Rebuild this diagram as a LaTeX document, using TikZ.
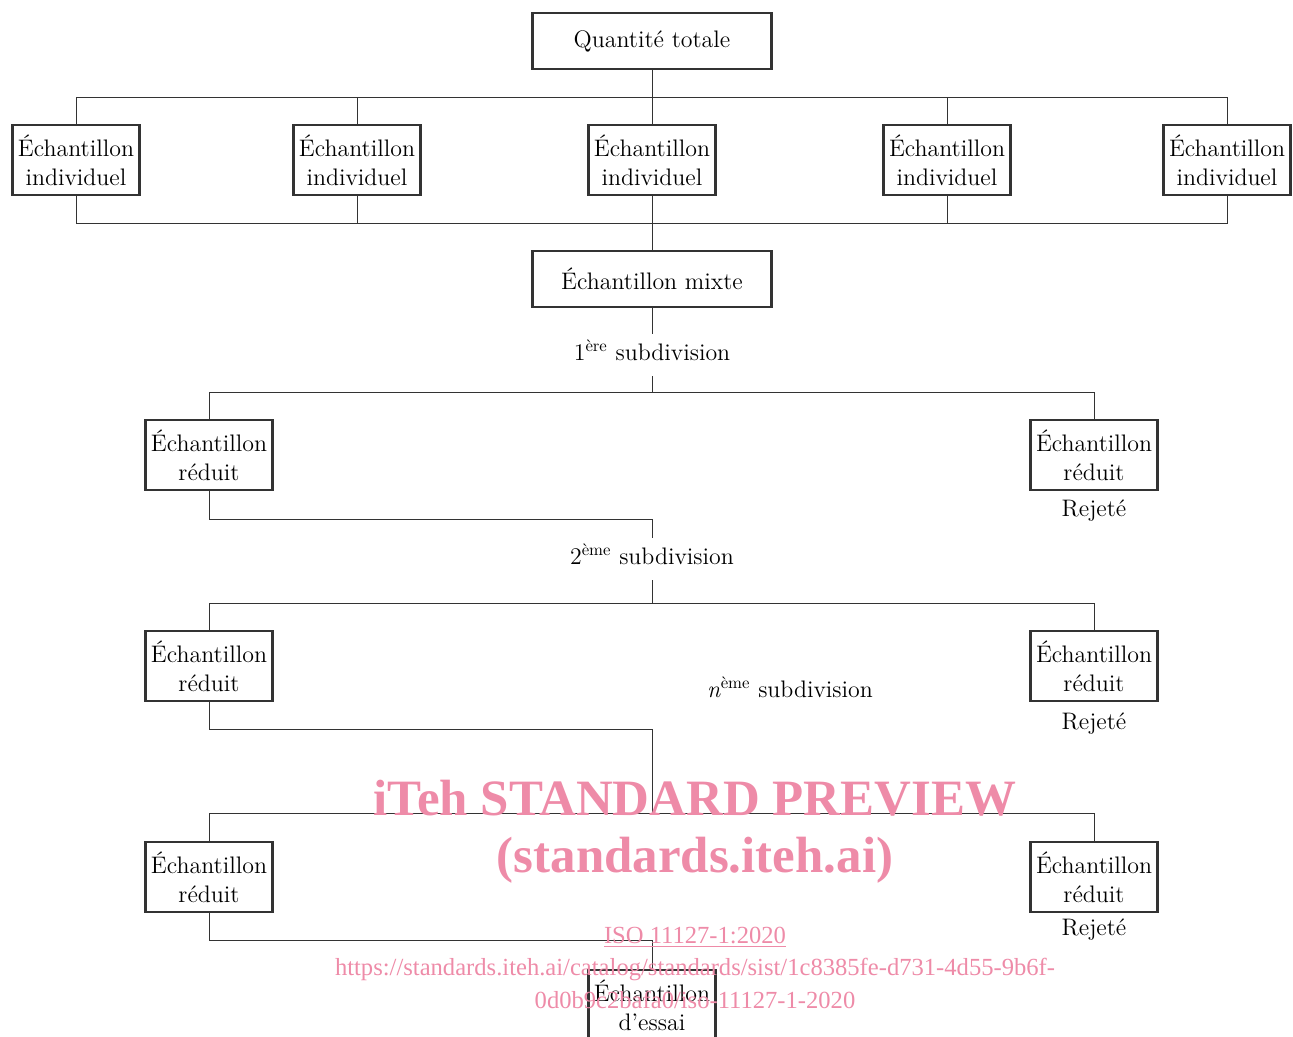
\documentclass[tikz,border=0pt]{standalone}
\usepackage{fontspec}
\newfontfamily\filfont{Liberation Serif}
\usetikzlibrary{positioning,calc}
\definecolor{rosefil}{RGB}{238,139,168}

\begin{document}
\begin{tikzpicture}[
    x=0.02cm, y=-0.02cm,
    font=\fontsize{13.6pt}{16.5pt}\selectfont,
    lien/.style={draw=black!80, line width=0.5pt},
    boite/.style={
        draw=black!80,
        line width=1.3pt,
        align=center,
        inner sep=0pt
    },
    large/.style={boite, minimum width=4.78cm, minimum height=1.12cm},
    ech/.style={boite, minimum width=2.54cm, minimum height=1.4cm},
    subdiv/.style={inner sep=5.5pt, text height=9.5pt, text depth=3pt},
    rejet/.style={inner sep=2pt},
    fil/.style={text=rosefil, inner sep=0pt}
]
\useasboundingbox (0,0) rectangle (1293,1036);

% quantite totale et echantillons individuels
\node[large] (qt)    at (652,41)  {Quantité totale};
\node[ech]   (ind1)  at (76,160)  {Échantillon\\individuel};
\node[ech]   (ind2)  at (357,160) {Échantillon\\individuel};
\node[ech]   (ind3)  at (652,160) {Échantillon\\individuel};
\node[ech]   (ind4)  at (947,160) {Échantillon\\individuel};
\node[ech]   (ind5)  at (1227,160) {Échantillon\\individuel};
\node[large] (mixte) at (652,279) {Échantillon mixte};

\coordinate (haut) at (652,97);
\coordinate (bas)  at (652,223);

\draw[lien] (qt) -- (haut);
\draw[lien] (ind1.north) |- (ind5.north |- haut) -- (ind5.north);
\draw[lien] (ind1.south) |- (ind5.south |- bas) -- (ind5.south);
\foreach \i in {2,3,4} {
    \draw[lien] (ind\i.north) -- (ind\i.north |- haut);
    \draw[lien] (ind\i.south) -- (ind\i.south |- bas);
}
\draw[lien] (bas) -- (mixte);

% 1ere subdivision
\node[subdiv] (sub1) at (652,355) {1\textsuperscript{ère} subdivision};
\coordinate (div1) at (652,392);
\node[ech] (red1a) at (209,455)  {Échantillon\\réduit};
\node[ech] (red1b) at (1094,455) {Échantillon\\réduit};
\node[rejet, below=3pt of red1b] (rej1) {Rejeté};

\draw[lien] (mixte) -- (sub1);
\draw[lien] (sub1) -- (div1);
\draw[lien] (red1a.north) |- (div1) -| (red1b.north);

% 2eme subdivision
\node[subdiv] (sub2) at (652,559) {2\textsuperscript{ème} subdivision};
\coordinate (c2)   at (652,519);
\coordinate (div2) at (652,603);
\node[ech] (red2a) at (209,666)  {Échantillon\\réduit};
\node[ech] (red2b) at (1094,666) {Échantillon\\réduit};
\node[rejet, below=4pt of red2b] (rej2) {Rejeté};

\draw[lien] (red1a.south) |- (c2) -- (sub2);
\draw[lien] (sub2) -- (div2);
\draw[lien] (red2a.north) |- (div2) -| (red2b.north);

% neme subdivision
\node[subdiv] (subn) at (790,692) {\textit{n}\textsuperscript{ème} subdivision};
\coordinate (c3)   at (652,729);
\coordinate (div3) at (652,813);
\node[ech] (red3a) at (209,877)  {Échantillon\\réduit};
\node[ech] (red3b) at (1094,877) {Échantillon\\réduit};
\node[rejet, below=1pt of red3b] (rej3) {Rejeté};

\draw[lien] (red2a.south) |- (c3) -- (div3);
\draw[lien] (red3a.north) |- (div3) -| (red3b.north);

% echantillon d'essai
\coordinate (c4) at (652,940);
\node[ech] (essai) at (652,1005) {Échantillon\\d’essai};
\draw[lien] (red3a.south) |- (c4) -- (essai.north);

% filigrane
\node[fil, font=\filfont\bfseries\fontsize{29pt}{30pt}\selectfont] (fil1) at (695,798) {iTeh STANDARD PREVIEW};
\node[fil, font=\filfont\bfseries\fontsize{29pt}{30pt}\selectfont] (fil2) at (695,860) {(standards.iteh.ai)};
\node[fil, font=\filfont\fontsize{14pt}{15pt}\selectfont] (fil3) at (695,937) {\underline{ISO 11127-1:2020}};
\node[fil, font=\filfont\fontsize{14pt}{15pt}\selectfont] (fil4) at (695,969) {https://standards.iteh.ai/catalog/standards/sist/1c8385fe-d731-4d55-9b6f-};
\node[fil, font=\filfont\fontsize{14pt}{15pt}\selectfont] (fil5) at (695,1000) {0d0b9c2bafa0/iso-11127-1-2020};
\end{tikzpicture}
\end{document}
